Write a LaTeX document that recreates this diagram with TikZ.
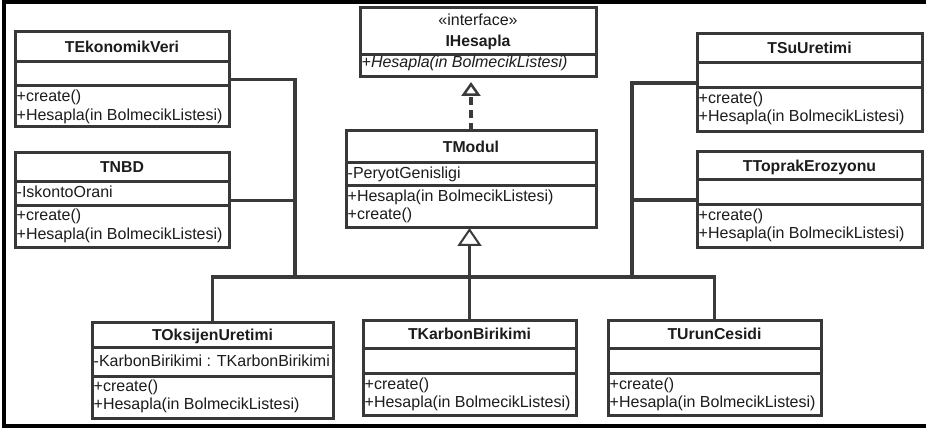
\documentclass[tikz,border=0pt]{standalone}
\usepackage{fontspec}
\setmainfont{Liberation Sans}
\usetikzlibrary{arrows.meta}
\definecolor{boxc}{HTML}{383838}
\definecolor{linec}{HTML}{3A3A3A}
\definecolor{txtc}{HTML}{1C1C1C}
\tikzset{
  classbox/.style={draw=boxc, line width=3pt, fill=white, inner sep=0pt, outer sep=0pt, anchor=north west},
  sepline/.style={draw=boxc, line width=3pt},
  ctitle/.style={font=\bfseries\fontsize{15.8}{18}\selectfont, text=txtc, inner sep=0pt, anchor=base},
  member/.style={font=\fontsize{16}{18}\selectfont, text=txtc, inner sep=0pt, anchor=base west},
  conn/.style={draw=linec, line width=3.5pt},
  frameline/.style={draw=black, line width=4.5pt}
}
\begin{document}
\begin{tikzpicture}[x=1pt,y=-1pt]
\useasboundingbox (0,0) rectangle (926,430);
\fill[white] (0,0) rectangle (926,430);
% frame
\draw[frameline] (930,2) -- (4,2) -- (4,425.8) -- (930,425.8);

% TEkonomikVeri
\node[classbox, minimum width=214pt, minimum height=95pt] (ekon) at (15,32) {};
\draw[sepline] (15,62) -- (229,62);
\draw[sepline] (15,86) -- (229,86);
\node[ctitle] (ekon-t) at (122,52.5) {TEkonomikVeri};
\node[member] (ekon-m1) at (16.5,102) {+create()};
\node[member] (ekon-m2) at (16.5,120.5) {+Hesapla(in BolmecikListesi)};

% TNBD
\node[classbox, minimum width=214pt, minimum height=95pt] (nbd) at (15,153) {};
\draw[sepline] (15,182) -- (229,182);
\draw[sepline] (15,206) -- (229,206);
\node[ctitle] (nbd-t) at (122,173) {TNBD};
\node[member] (nbd-a1) at (16.5,198) {-IskontoOrani};
\node[member] (nbd-m1) at (16.5,221) {+create()};
\node[member] (nbd-m2) at (16.5,239.5) {+Hesapla(in BolmecikListesi)};

% IHesapla
\node[classbox, minimum width=236pt, minimum height=69pt] (ihes) at (360,8) {};
\draw[sepline] (360,55) -- (596,55);
\node[member, anchor=base] (ihes-s) at (478,26) {«interface»};
\node[ctitle] (ihes-t) at (478,46.5) {IHesapla};
\node[member, font=\itshape\fontsize{16}{18}\selectfont] (ihes-m1) at (361.5,68) {+Hesapla(in BolmecikListesi)};

% TModul
\node[classbox, minimum width=250pt, minimum height=97pt] (tmod) at (346,131) {};
\draw[sepline] (346,163) -- (596,163);
\draw[sepline] (346,186) -- (596,186);
\node[ctitle] (tmod-t) at (471,153) {TModul};
\node[member] (tmod-a1) at (347.5,179) {-PeryotGenisligi};
\node[member] (tmod-m1) at (347.5,202) {+Hesapla(in BolmecikListesi)};
\node[member] (tmod-m2) at (347.5,220) {+create()};

% TSuUretimi
\node[classbox, minimum width=225pt, minimum height=98pt] (su) at (697,34) {};
\draw[sepline] (697,63) -- (922,63);
\draw[sepline] (697,88) -- (922,88);
\node[ctitle] (su-t) at (809.5,54) {TSuUretimi};
\node[member] (su-m1) at (698.5,104) {+create()};
\node[member] (su-m2) at (698.5,122) {+Hesapla(in BolmecikListesi)};

% TToprakErozyonu
\node[classbox, minimum width=225pt, minimum height=96pt] (topr) at (697,152) {};
\draw[sepline] (697,180) -- (922,180);
\draw[sepline] (697,205) -- (922,205);
\node[ctitle] (topr-t) at (809.5,171.5) {TToprakErozyonu};
\node[member] (topr-m1) at (698.5,221) {+create()};
\node[member] (topr-m2) at (698.5,239) {+Hesapla(in BolmecikListesi)};

% TOksijenUretimi
\node[classbox, minimum width=241pt, minimum height=96pt] (oks) at (92,322) {};
\draw[sepline] (92,347) -- (333,347);
\draw[sepline] (92,376) -- (333,376);
\node[ctitle] (oks-t) at (212.5,340) {TOksijenUretimi};
\node[member] (oks-a1) at (93.5,366) {-KarbonBirikimi : TKarbonBirikimi};
\node[member] (oks-m1) at (93.5,391) {+create()};
\node[member] (oks-m2) at (93.5,409.5) {+Hesapla(in BolmecikListesi)};

% TKarbonBirikimi
\node[classbox, minimum width=213pt, minimum height=95pt] (kar) at (363,320) {};
\draw[sepline] (363,348) -- (576,348);
\draw[sepline] (363,373) -- (576,373);
\node[ctitle] (kar-t) at (469.5,339.5) {TKarbonBirikimi};
\node[member] (kar-m1) at (364.5,389) {+create()};
\node[member] (kar-m2) at (364.5,407.5) {+Hesapla(in BolmecikListesi)};

% TUrunCesidi
\node[classbox, minimum width=213pt, minimum height=95pt] (uru) at (608,320) {};
\draw[sepline] (608,348) -- (821,348);
\draw[sepline] (608,373) -- (821,373);
\node[ctitle] (uru-t) at (714.5,339.5) {TUrunCesidi};
\node[member] (uru-m1) at (609.5,389) {+create()};
\node[member] (uru-m2) at (609.5,407.5) {+Hesapla(in BolmecikListesi)};

% connectors
\coordinate (jl) at (295,277);
\coordinate (jr) at (632,277);
\draw[conn] (ekon.east) -| (jl);
\draw[conn] (nbd.east) -- (nbd.east -| jl);
\draw[conn] (su.west) -| (jr);
\draw[conn] (topr.west) -- (topr.west -| jr);
\draw[conn] (oks.north) |- (jl) -- (jr) -| (uru.north);
\draw[conn, -{Triangle[open, length=18pt, width=24pt, line width'=2pt]}] (kar.north) -- (kar.north |- tmod.south);
\draw[conn, dash pattern=on 8pt off 5pt, shorten >=5pt, -{Triangle[open, length=14pt, width=19pt, line width'=2.5pt]}] (tmod.north) -- (tmod.north |- ihes.south);
\end{tikzpicture}
\end{document}
